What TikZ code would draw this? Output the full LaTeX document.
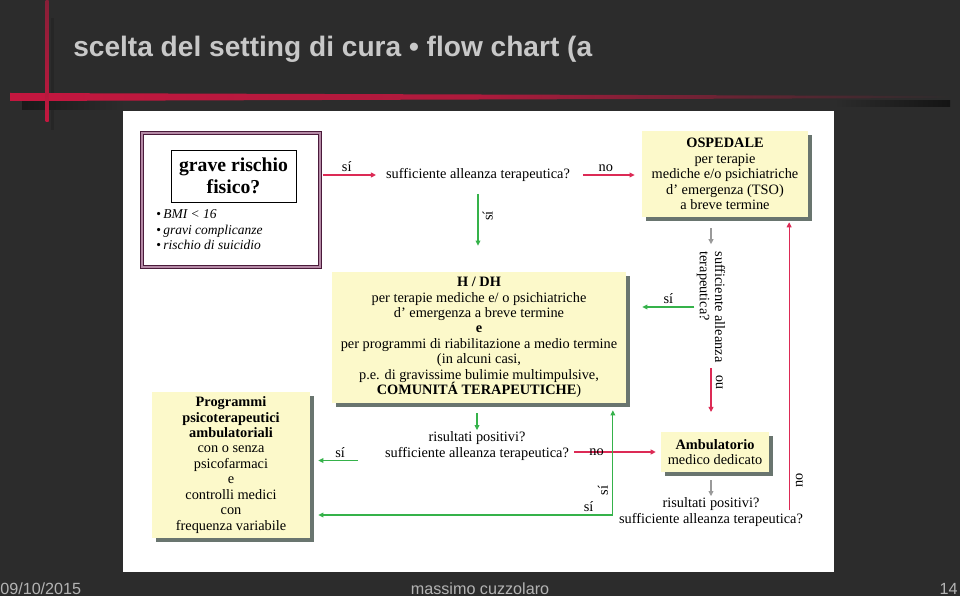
\documentclass[tikz,border=0pt]{standalone}
\usepackage{graphicx}
\usepackage{fontspec}
\setmainfont{Liberation Serif}
\newfontfamily\slidesans{Liberation Sans}
\usetikzlibrary{arrows.meta,calc,shadows}

\definecolor{slidebg}{HTML}{2C2C2C}
\definecolor{slidegray}{HTML}{C8C8C8}
\definecolor{footgray}{HTML}{B4B4B4}
\definecolor{slidered}{HTML}{C4173F}
\definecolor{boxyellow}{HTML}{FCF9CA}
\definecolor{boxshadow}{HTML}{4F5E56}
\definecolor{framedark}{HTML}{4A1A3A}
\definecolor{framemauve}{HTML}{B58AA6}
\definecolor{arrowred}{HTML}{DC2A55}
\definecolor{arrowgreen}{HTML}{35B24A}
\definecolor{arrowgray}{HTML}{9A9A9A}

\tikzstyle{flow}=[inner sep=0pt, align=center, font=\fontsize{10.2}{11}\selectfont]
\tikzstyle{setting}=[flow, fill=boxyellow, drop shadow={shadow xshift=2.8pt, shadow yshift=-2.8pt, fill=boxshadow, opacity=.85}]
\tikzstyle{risk frame}=[draw=framedark, double=framemauve, double distance=1.6pt, line width=.9pt, minimum width=4.45cm, minimum height=3.35cm, inner sep=0pt]
\tikzstyle{risk box}=[draw=black, line width=.6pt, minimum width=3.125cm, minimum height=1.3cm, inner sep=0pt, align=center, font=\bfseries\fontsize{14}{15.6}\selectfont]
\tikzstyle{answer}=[flow, text=black]
\tikzstyle{flow arrow}=[line width=.75pt, -{Triangle[length=3.6pt,width=3.4pt]}]
\tikzstyle{arrow red}=[flow arrow, arrowred]
\tikzstyle{arrow green}=[flow arrow, arrowgreen]
\tikzstyle{arrow gray}=[flow arrow, arrowgray]
\tikzstyle{footer}=[inner sep=0pt, text=footgray, font=\slidesans\fontsize{11.5}{13}\selectfont]

\begin{document}
\begin{tikzpicture}[x=0.025cm, y=-0.025cm]
	\useasboundingbox (0,0) rectangle (960,596);
	\fill[slidebg] (0,0) rectangle (960,596);
	\fill[black!85] (51,18) rectangle (54,130);
	\shade[left color=black!90, right color=slidebg] (22,102) rectangle (125,110);
	\shade[left color=slidebg, right color=black!55!slidebg] (834,101) rectangle (950,107);
	\shade[left color=slidered, right color=slidebg, middle color=slidered!85!slidebg] (10,93) -- (950,96) -- (950,98) -- (10,101) -- cycle;
	\shade[top color=slidered!60!slidebg, bottom color=slidered] (45.5,0) rectangle (48.5,122);
	\fill[white] (123,111) rectangle (834,572);

	\node[anchor=base west, inner sep=0pt, text=slidegray, font=\slidesans\bfseries\fontsize{20}{22}\selectfont] (titolo) at (73,57) {\resizebox{12.97cm}{\height}{scelta del setting di cura • flow chart (a}};

	\node[footer, anchor=base west] (data) at (0,594) {09/10/2015};
	\node[footer, anchor=base] (autore) at (480,594) {massimo cuzzolaro};
	\node[footer, anchor=base east] (pagina) at (958,594) {14};

	\node[risk frame] (rischio) at (231,200) {};
	\node[risk box] (grave) at (233.5,176) {grave rischio\\fisico?};
	\node[anchor=west, align=left, inner sep=0pt, font=\itshape\fontsize{9.6}{11}\selectfont] (criteri) at (156,230) {\textup{•}\,BMI < 16\\\textup{•}\,gravi complicanze\\\textup{•}\,rischio di suicidio};

	\node[flow] (alleanza) at (478,175) {sufficiente alleanza terapeutica?};
	\node[setting, minimum width=4.15cm, minimum height=2.15cm] (ospedale) at (725,174) {\textbf{OSPEDALE}\\per terapie\\mediche e/o psichiatriche\\d’ emergenza (TSO)\\a breve termine};
	\node[setting, minimum width=7.35cm, minimum height=3.275cm] (hdh) at (479,337.5) {\textbf{H / DH}\\per terapie mediche e/ o psichiatriche\\d’ emergenza a breve termine\\\textbf{e}\\per programmi di riabilitazione a medio termine\\(in alcuni casi,\\p.e. di gravissime bulimie multimpulsive,\\\textbf{COMUNITÁ TERAPEUTICHE})};
	\node[flow, rotate=-90, align=left] (verifica) at (711,307) {sufficiente alleanza\\terapeutica?};
	\node[setting, minimum width=3.95cm, minimum height=3.65cm] (programmi) at (231,465) {\textbf{Programmi}\\\textbf{psicoterapeutici}\\\textbf{ambulatoriali}\\con o senza\\psicofarmaci\\e\\controlli medici\\con\\frequenza variabile};
	\node[flow] (risultati) at (477,446) {risultati positivi?\\sufficiente alleanza terapeutica?};
	\node[setting, minimum width=2.7cm, minimum height=1cm] (ambulatorio) at (715,452) {\textbf{Ambulatorio}\\medico dedicato};
	\node[flow] (esito) at (711,512) {risultati positivi?\\sufficiente alleanza terapeutica?};

	\coordinate (bivio) at ($(esito.west)+(-6,3)$);
	\coordinate (ritorno) at ($(esito.east)+(-14,-2)$);

	\draw[arrow red, shorten <=1.5pt, shorten >=7pt] (rischio.east |- alleanza.west) -- (alleanza.west) node[answer, pos=.4, above=2pt] (si1) {sí};
	\draw[arrow red, shorten <=9pt, shorten >=5pt] (alleanza.east) -- (alleanza.east -| ospedale.west) node[answer, midway, above=2pt] (no1) {no};
	\draw[arrow green, shorten <=8.5pt, shorten >=18.5pt] (alleanza.south) -- (alleanza.south |- hdh.north) node[answer, pos=.38, rotate=90, anchor=north, inner sep=3pt] (si2) {sí};
	\draw[arrow gray, shorten <=7.8pt, shorten >=5pt] (ospedale.south -| verifica.west) -- (verifica.west);
	\draw[arrow green, shorten <=1.5pt, shorten >=11.4pt] (verifica.south) -- (verifica.south -| hdh.east) node[answer, pos=.4, above=2pt] (si3) {sí};
	\draw[arrow red, shorten <=4pt, shorten >=14pt] (verifica.east) -- (verifica.east |- ambulatorio.north) node[answer, pos=.29, rotate=90, anchor=north, inner sep=3pt] (no2) {no};
	\draw[arrow green, shorten <=7pt, shorten >=1pt] (risultati.north |- hdh.south) -- (risultati.north);
	\draw[arrow green, shorten <=19pt, shorten >=5.7pt] (risultati.south west) -- (risultati.south west -| programmi.east) node[answer, pos=.6, above=2pt] (si4) {sí};
	\draw[arrow red, shorten <=3.5pt, shorten >=3.5pt] (ambulatorio.west -| risultati.east) -- (ambulatorio.west) node[answer, pos=.3] (no3) {no};
	\draw[arrow gray, shorten <=5.7pt, shorten >=1pt] (ambulatorio.south -| esito.north) -- (esito.north);
	\draw[arrow green, shorten >=5pt] (bivio) -- (bivio |- hdh.south) node[answer, pos=.22, rotate=90, anchor=south, inner sep=3pt] (si5) {sí};
	\draw[arrow green, shorten >=5.7pt] (bivio) -- (bivio -| programmi.east) node[answer, pos=.08, above=2pt] (si6) {sí};
	\draw[arrow red, shorten >=3.5pt] (ritorno) -- (ritorno |- ospedale.south) node[answer, pos=.1, rotate=90, anchor=north, inner sep=4.5pt] (no4) {no};
\end{tikzpicture}
\end{document}
